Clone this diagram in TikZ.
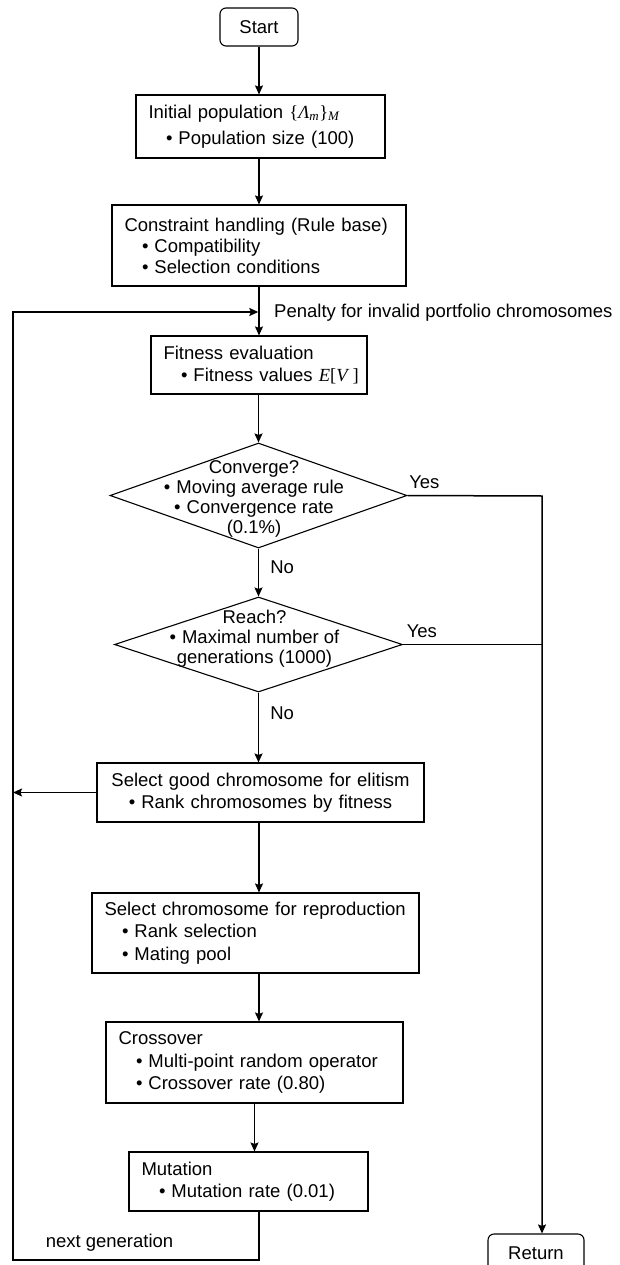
\documentclass[tikz,border=0pt]{standalone}
\usepackage{fontspec}
\setmainfont{Liberation Sans}
\newfontfamily\mathserif{Liberation Serif}
\usetikzlibrary{arrows.meta,shapes.geometric}

% small helpers for the box texts
\newcommand{\mth}[1]{{\mathserif #1}}
\newcommand{\bt}{•\hspace{6pt}}
\newcommand{\hd}[1]{\hspace*{12.5pt}#1}
\newcommand{\bul}[1]{\hspace*{30pt}\bt #1}
% text of a diamond, kept out of the shape size
\newcommand{\dtext}[3]{\smash{\makebox[0pt]{\hspace*{#2pt}\raisebox{#1pt}{\parbox[c]{290pt}{\centering\fontsize{18.5}{20}\selectfont #3}}}}}

\begin{document}
\begin{tikzpicture}[x=1pt, y=-1pt, font=\fontsize{18.5}{22.5}\selectfont,
    box/.style={draw, line width=1.1pt, inner sep=0pt, align=left},
    term/.style={draw, line width=1.1pt, rounded corners=6pt, inner sep=0pt, minimum width=96pt, minimum height=38pt},
    decision/.style={draw, diamond, line width=1.1pt, inner sep=0pt},
    arr/.style={line width=1.5pt, -{Stealth[length=9pt,width=8pt,inset=1.5pt]}},
    link/.style={line width=1.5pt},
    lbl/.style={inner sep=0pt}]
    \useasboundingbox (0,0) rectangle (619,1265);
    \clip (0,0) rectangle (619,1265);

    \coordinate (axis) at (259,0);
    \coordinate (join) at (259,312);
    \coordinate (fb) at (13,1260);
    \coordinate (rx) at (542,496);

    \node[term, minimum width=78pt] (start) at (259,27) {Start};
    \node[box, text width=249pt, minimum height=63pt, font=\fontsize{18.5}{26}\selectfont] (init) at (260.5,126.5)
        {\hd{Initial population \mth{\{\textit{Λ}\textsubscript{\textit{m}}\}\textsubscript{\textit{M}}}}\\ \bul{Population size (100)}};
    \node[box, text width=294pt, minimum height=81pt, font=\fontsize{18.5}{21}\selectfont] (cons) at (259,245.5)
        {\hd{Constraint handling (Rule base)}\\ \bul{Compatibility}\\ \bul{Selection conditions}};
    \node[lbl, anchor=west] (penalty) at (274,313) {Penalty for invalid portfolio chromosomes};
    \node[box, text width=216pt, minimum height=58pt] (fit) at (259,365)
        {\hd{Fitness evaluation}\\ \bul{Fitness values \mth{\textit{E}[\textit{V}\,]}}};
    \node[decision, minimum width=297pt, minimum height=105pt] (conv) at (258.5,495.5)
        {\dtext{-7.8}{-9}{Converge?\\ \bt Moving average rule\\ \bt Convergence rate\\ (0.1\%)}};
    \node[decision, minimum width=288pt, minimum height=95pt] (reach) at (258.5,644.5)
        {\dtext{1.2}{-8}{Reach?\\ \bt Maximal number of\\ generations (1000)}};
    \node[box, align=center, text width=327pt, minimum height=59pt] (elit) at (260.5,792.5)
        {Select good chromosome for elitism\\ \bt Rank chromosomes by fitness};
    \node[box, text width=327pt, minimum height=80pt] (repro) at (255.5,933)
        {\hd{Select chromosome for reproduction}\\ \bul{Rank selection}\\ \bul{Mating pool}};
    \node[box, text width=297pt, minimum height=81pt] (cross) at (254.5,1062.5)
        {\hd{Crossover}\\ \bul{Multi-point random operator}\\ \bul{Crossover rate (0.80)}};
    \node[box, text width=239pt, minimum height=59pt] (mut) at (248.5,1181.5)
        {\hd{Mutation}\\ \bul{Mutation rate (0.01)}};
    \node[term] (ret) at (536,1253) {Return};

    % main flow
    \draw[arr] (start.south -| axis) -- (init.north -| axis);
    \draw[arr] (init.south -| axis) -- (cons.north -| axis);
    \draw[arr] (cons.south -| axis) -- (fit.north -| axis);
    \draw[arr] (fit.south -| conv.north) -- (conv.north);
    \draw[arr] (conv.south) -- node[lbl, anchor=west, pos=0.39, xshift=11pt] {No} (reach.north);
    \draw[arr] (reach.south) -- node[lbl, anchor=west, pos=0.3, xshift=11pt] {No} (reach.south |- elit.north);
    \draw[arr] (elit.south -| axis) -- (repro.north -| axis);
    \draw[arr] (repro.south -| axis) -- (cross.north -| axis);
    \draw[arr] (cross.south) -- (cross.south |- mut.north);

    % loop back
    \draw[arr, shorten >=0.7pt] (mut.south -| axis) |- (fb)
        node[lbl, anchor=south west, xshift=32pt, yshift=8pt] {next generation}
        -- (fb |- join) -- (join);
    \draw[arr] (elit.west) -- (elit.west -| fb);

    % exits
    \draw[arr] (conv.east) -- node[lbl, anchor=south west, pos=0, xshift=1pt, yshift=6pt] {Yes} (rx) -- (rx |- ret.north);
    \draw[link] (reach.east) -- node[lbl, anchor=south west, pos=0, xshift=3pt, yshift=6pt] {Yes} (reach.east -| rx);
\end{tikzpicture}
\end{document}
